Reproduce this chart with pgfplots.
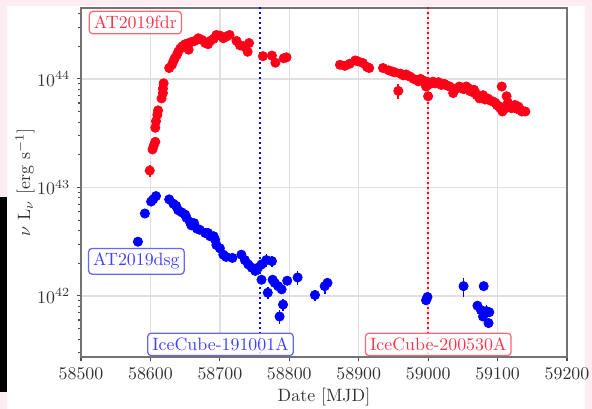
\documentclass[border=0pt]{standalone}
\usepackage{pgfplots}
\pgfplotsset{compat=1.18}
\usepackage{pgfplotstable}
\definecolor{mred}{rgb}{1,0,0.1}
\definecolor{mblue}{rgb}{0,0,1}
\definecolor{bgpink}{RGB}{253,236,241}

\pgfplotstableread{
x y e
58599 1.43e43 0.12
58603 2.24e43 0.03
58605 2.45e43 0.03
58607 2.63e43 0.03
58607 3.55e43 0.03
58608 4.07e43 0.03
58610 4.68e43 0.03
58611 5.13e43 0.03
58616 6.61e43 0.03
58618 7.41e43 0.03
58618 8.13e43 0.03
58619 9.12e43 0.03
58627 1.26e44 0.02
58631 1.35e44 0.02
58633 1.45e44 0.02
58635 1.55e44 0.02
58638 1.66e44 0.02
58640 1.78e44 0.02
58643 1.91e44 0.02
58646 2.00e44 0.02
58650 2.09e44 0.02
58655 2.14e44 0.02
58655 1.86e44 0.02
58659 2.19e44 0.02
58664 2.24e44 0.02
58669 2.37e44 0.02
58674 2.29e44 0.02
58679 2.14e44 0.02
58683 2.09e44 0.02
58686 2.24e44 0.02
58691 2.34e44 0.02
58695 2.54e44 0.02
58700 2.51e44 0.02
58705 2.37e44 0.02
58709 2.45e44 0.02
58714 2.54e44 0.02
58724 2.24e44 0.02
58729 2.04e44 0.02
58734 2.00e44 0.02
58740 1.78e44 0.02
58742 2.14e44 0.02
58762 1.62e44 0.02
58775 1.64e44 0.02
58780 1.41e44 0.02
58792 1.55e44 0.02
58796 1.58e44 0.02
58873 1.35e44 0.02
58880 1.32e44 0.02
58887 1.38e44 0.02
58895 1.48e44 0.02
58899 1.45e44 0.02
58906 1.40e44 0.02
58912 1.29e44 0.02
58915 1.26e44 0.02
58935 1.26e44 0.02
58943 1.20e44 0.02
58948 1.17e44 0.02
58952 1.15e44 0.02
58960 1.12e44 0.02
58964 1.08e44 0.02
58968 1.10e44 0.02
58971 1.07e44 0.02
58974 1.05e44 0.02
58979 1.00e44 0.02
58984 9.77e43 0.02
58986 9.50e43 0.02
58989 1.00e44 0.02
58992 9.60e43 0.02
58995 9.55e43 0.02
59000 9.33e43 0.02
58997 8.51e43 0.03
59000 6.92e43 0.10
58957 7.76e43 0.15
59003 9.00e43 0.03
59007 9.44e43 0.02
59010 9.10e43 0.03
59015 9.33e43 0.02
59019 8.80e43 0.03
59023 9.02e43 0.02
59027 8.70e43 0.03
59031 8.51e43 0.02
59039 8.04e43 0.03
59036 7.41e43 0.10
59042 8.20e43 0.03
59045 8.51e43 0.03
59048 8.30e43 0.03
59051 8.04e43 0.03
59055 8.51e43 0.03
59058 8.20e43 0.04
59060 7.76e43 0.05
59063 7.60e43 0.05
59066 7.94e43 0.05
59068 7.50e43 0.05
59070 7.08e43 0.05
59074 6.61e43 0.06
59077 6.80e43 0.05
59079 7.08e43 0.05
59082 6.46e43 0.06
59086 6.60e43 0.06
59090 6.30e43 0.06
59094 6.17e43 0.06
59097 6.00e43 0.07
59099 5.75e43 0.08
59102 5.60e43 0.08
59106 8.51e43 0.10
59113 6.92e43 0.06
59107 5.01e43 0.10
59104 5.37e43 0.08
59110 5.30e43 0.08
59115 6.03e43 0.06
59118 5.60e43 0.07
59120 5.37e43 0.10
59125 5.75e43 0.06
59128 5.30e43 0.08
59130 5.56e43 0.08
59133 5.20e43 0.06
59135 5.01e43 0.05
59140 5.01e43 0.04
}\fdr

\pgfplotstableread{
x y e
58582 3.16e42 0.03
58592 5.75e42 0.03
58601 7.41e42 0.03
58604 7.76e42 0.03
58608 8.32e42 0.03
58627 7.76e42 0.03
58633 7.08e42 0.03
58637 6.76e42 0.03
58640 6.17e42 0.03
58645 5.89e42 0.03
58650 5.62e42 0.03
58652 5.25e42 0.03
58657 4.79e42 0.03
58659 4.47e42 0.03
58663 4.68e42 0.03
58667 4.17e42 0.03
58671 4.07e42 0.03
58679 3.80e42 0.03
58683 3.80e42 0.03
58686 3.55e42 0.03
58691 3.55e42 0.03
58693 3.31e42 0.03
58695 2.95e42 0.03
58700 2.75e42 0.03
58705 2.40e42 0.03
58709 2.29e42 0.03
58718 2.24e42 0.03
58731 2.40e42 0.03
58736 2.14e42 0.03
58741 1.95e42 0.03
58746 1.82e42 0.03
58751 1.70e42 0.03
58755 1.82e42 0.03
58760 1.95e42 0.04
58767 2.14e42 0.14
58775 2.09e42 0.12
58760 1.41e42 0.05
58769 1.07e42 0.12
58776 1.41e42 0.05
58779 1.32e42 0.05
58784 1.23e42 0.05
58789 1.15e42 0.05
58797 1.38e42 0.08
58812 1.48e42 0.15
58791 8.32e41 0.12
58786 6.46e41 0.15
58837 1.02e42 0.12
58851 1.23e42 0.15
58855 1.32e42 0.12
58997 9.12e41 0.06
58999 9.77e41 0.06
59051 1.23e42 0.20
59080 1.23e42 0.05
59071 8.13e41 0.05
59076 7.41e41 0.06
59079 6.46e41 0.08
59084 7.24e41 0.15
59088 7.08e41 0.10
59087 5.62e41 0.10
}\dsg

\begin{document}
\begin{tikzpicture}[x=0.56pt,y=0.56pt]
\path[use as bounding box] (0,0) rectangle (592,409);
\fill[bgpink] (0,0) rectangle (592,409);
\fill[white] (7,0) rectangle (585,403);
\fill[black] (0,17) rectangle (7,212);
\begin{axis}[
  at={(45.36pt,29.12pt)}, anchor=south west,
  scale only axis, width=272.16pt, height=195.44pt,
  xmin=58500, xmax=59200,
  ymode=log, ymin=2.74e41, ymax=4.51e44,
  xtick={58500,58600,...,59200},
  scaled x ticks=false,
  ytick={1e42,1e43,1e44},
  minor ytick={3e41,4e41,5e41,6e41,7e41,8e41,9e41,2e42,3e42,4e42,5e42,6e42,7e42,8e42,9e42,2e43,3e43,4e43,5e43,6e43,7e43,8e43,9e43,2e44,3e44,4e44},
  x tick label style={/pgf/number format/1000 sep={}, /pgf/number format/fixed},
  tick label style={text=black!80},
  grid=major,
  major grid style={black!12, line width=0.8pt},
  axis line style={black!55, line width=0.8pt},
  tick style={black!70, line width=0.6pt},
  tick align=outside, tick pos=left,
  major tick length=2.5pt, minor tick length=1.5pt,
  xlabel={Date [MJD]},
  ylabel={$\nu$ L$_\nu$ [erg s$^{-1}$]},
  xlabel style={at={(rel axis cs:0.5,-0.115)}, anchor=center, text=black!80},
  ylabel style={at={(rel axis cs:-0.115,0.5)}, anchor=center, text=black!80},
]
\addplot[mblue, line width=1.1pt, dash pattern=on 1.1pt off 1.7pt] coordinates {(58757.8,1e41) (58757.8,1e45)};
\addplot[mred, line width=1.1pt, dash pattern=on 1.1pt off 1.7pt] coordinates {(59000,1e41) (59000,1e45)};
\addplot[only marks, mark=*, mark size=2.6pt, color=mred, mark options={fill=mred, draw=none},
  error bars/.cd, y dir=both, y explicit relative, error mark=none,
  error bar style={line width=0.9pt, mred}]
  table[x=x, y=y, y error=e] {\fdr};
\addplot[only marks, mark=*, mark size=2.6pt, color=mblue, mark options={fill=mblue, draw=none},
  error bars/.cd, y dir=both, y explicit relative, error mark=none,
  error bar style={line width=0.9pt, mblue}]
  table[x=x, y=y, y error=e] {\dsg};
\node[draw=mred!60!white, fill=white, fill opacity=0.85, text opacity=1, text=mred!80!white, rounded corners=2pt, inner sep=2.6pt, line width=0.7pt] at (rel axis cs:0.112,0.958) {AT2019fdr};
\node[draw=mblue!60!white, fill=white, fill opacity=0.85, text opacity=1, text=mblue!75!white, rounded corners=2pt, inner sep=2.6pt, line width=0.7pt] at (rel axis cs:0.114,0.274) {AT2019dsg};
\node[draw=mblue!60!white, fill=white, fill opacity=0.85, text opacity=1, text=mblue!75!white, rounded corners=2pt, inner sep=2.6pt, line width=0.7pt] at (rel axis cs:0.287,0.036) {IceCube-191001A};
\node[draw=mred!60!white, fill=white, fill opacity=0.85, text opacity=1, text=mred!80!white, rounded corners=2pt, inner sep=2.6pt, line width=0.7pt] at (rel axis cs:0.735,0.036) {IceCube-200530A};
\end{axis}
\end{tikzpicture}
\end{document}
